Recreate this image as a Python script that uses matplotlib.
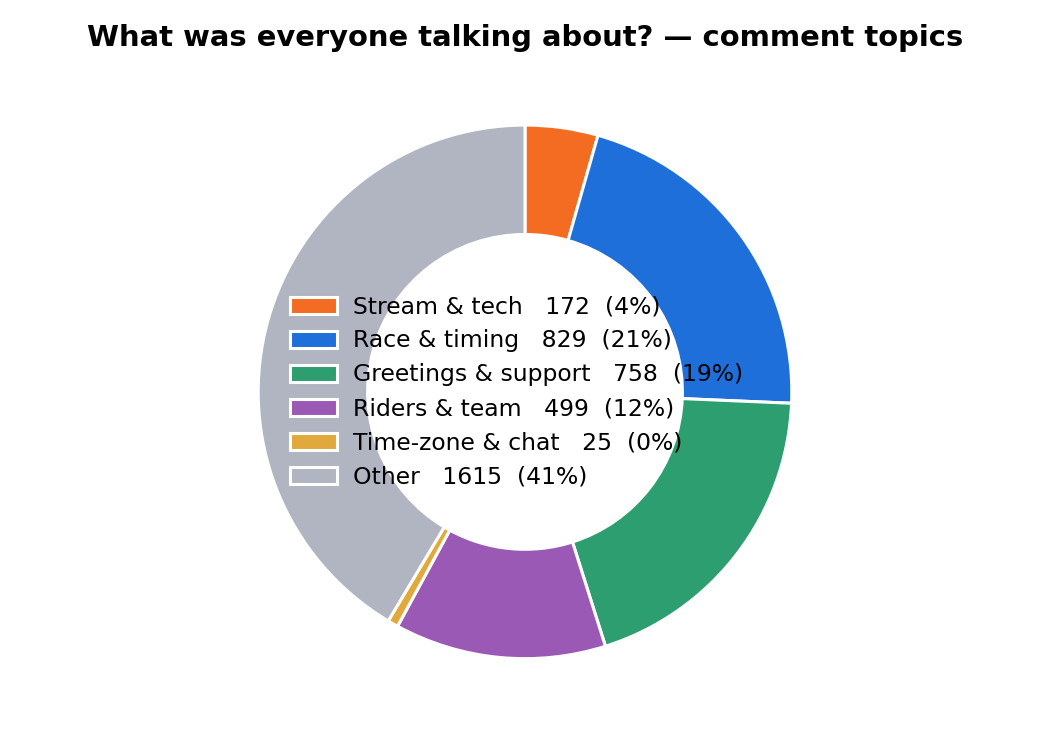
import matplotlib.pyplot as plt

plt.rcParams['font.family'] = ['DejaVu Sans']

# comment topic counts
topics = ["Stream & tech", "Race & timing", "Greetings & support",
          "Riders & team", "Time-zone & chat", "Other"]
counts = [172, 829, 758, 499, 25, 1615]
pct_labels = ["4%", "21%", "19%", "12%", "0%", "41%"]
colors = ["#F36C21", "#1E6FD9", "#2C9E70", "#9B59B6", "#E1A93B", "#B0B5C1"]

fig = plt.figure(figsize=(10.5, 7.5), dpi=100)
ax = fig.add_axes([0.2205, 0.086, 0.559, 0.783])

wedges, _ = ax.pie(counts, colors=colors, startangle=90, counterclock=False,
                   wedgeprops=dict(width=0.41, edgecolor="white", linewidth=2.2))
ax.set_xlim(-1.1, 1.1)
ax.set_ylim(-1.1, 1.1)
ax.set_aspect("equal")

labels = [f"{t}   {c}  ({p})" for t, c, p in zip(topics, counts, pct_labels)]
ax.legend(wedges, labels, loc="center", bbox_to_anchor=(0.486, 0.5),
          frameon=False, fontsize=16.9,
          handlelength=2.0, handleheight=0.75, labelspacing=0.47, handletextpad=0.7)

fig.suptitle("What was everyone talking about? — comment topics",
             fontsize=20.9, fontweight="bold", y=0.968)

fig.savefig("out.png", dpi=100)
